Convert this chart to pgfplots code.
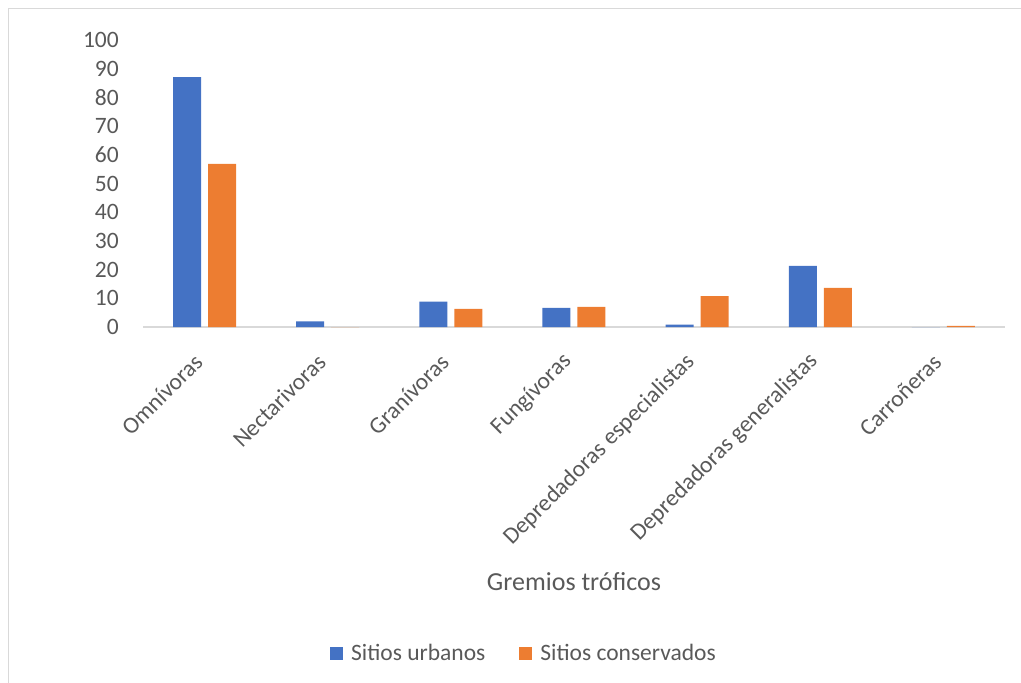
\documentclass[border=0pt]{standalone}
\usepackage{pgfplots}
\pgfplotsset{compat=1.18}
\usepackage{fontspec}
\setmainfont{Carlito}
\definecolor{txt}{RGB}{89,89,89}
\definecolor{ax}{RGB}{217,217,217}
\definecolor{frame}{RGB}{217,217,217}
\definecolor{cblue}{RGB}{68,114,196}
\definecolor{corange}{RGB}{237,125,49}
\begin{document}
\begin{tikzpicture}[x=1pt,y=1pt]
\useasboundingbox (0,0) rectangle (1021,683);
\draw[frame, line width=1.5pt] (8.5,-5) -- (8.5,674.5) -- (1030,674.5);
\begin{axis}[
  at={(143pt,356pt)}, anchor=south west,
  scale only axis, width=862pt, height=287pt,
  ybar=7pt, bar width=28pt,
  xmin=-0.5, xmax=6.5, ymin=0, ymax=100,
  ytick={0,10,...,100},
  xtick={0,1,2,3,4,5,6},
  xticklabels={Omnívoras,Nectarivoras,Granívoras,Fungívoras,Depredadoras especialistas,Depredadoras generalistas,Carroñeras},
  axis lines=left,
  y axis line style={draw=none},
  x axis line style={draw=ax, line width=1.5pt, -},
  major tick length=0pt,
  tick label style={font=\fontsize{23.5}{26}\selectfont, text=txt},
  /pgf/number format/assume math mode=true,
  yticklabel style={inner sep=0pt, anchor=east, xshift=-24pt},
  xticklabel style={inner sep=0pt, xshift=-6pt, yshift=-31pt, rotate=45, anchor=east},
  clip=false,
  legend style={at={(rel axis cs:0.442,-1.136)}, anchor=center, draw=none, fill=none,
    legend columns=2, font=\fontsize{23.5}{26}\selectfont, text=txt,
    /tikz/every even column/.append style={column sep=32pt}},
  legend image code/.code={\fill[#1] (0pt,-6.5pt) rectangle (13pt,6.5pt); \path (19pt,0pt);},
]
\addplot[fill=cblue, draw=none] coordinates {(0,87.1) (1,2.0) (2,8.8) (3,6.7) (4,0.8) (5,21.3) (6,0)};
\addplot[fill=corange, draw=none] coordinates {(0,56.8) (1,0) (2,6.3) (3,7.0) (4,10.8) (5,13.6) (6,0.4)};
\legend{Sitios urbanos, Sitios conservados}
\end{axis}
\node[text=txt, font=\fontsize{26}{30}\selectfont] at (574,101) {Gremios tróficos};
\end{tikzpicture}
\end{document}
